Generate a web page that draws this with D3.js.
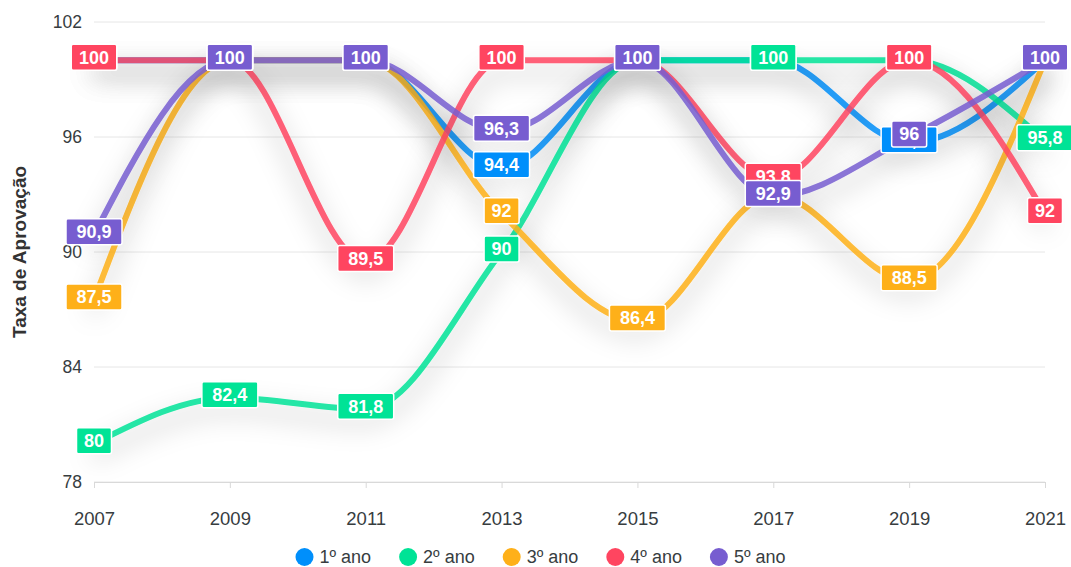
<!DOCTYPE html>
<html lang="pt">
<head>
<meta charset="UTF-8">
<title>Taxa de Aprovação</title>
<style>
  body { margin: 0; background: #fff; }
  svg { font-family: "Liberation Sans", Arial, Helvetica, sans-serif; }
  .grid line { stroke: #e6e6e6; }
  .axis path, .axis line { stroke: #d9d9d9; }
</style>
</head>
<body>
<svg width="1071" height="567"></svg>
<script src="https://cdn.jsdelivr.net/npm/d3@7"></script>
<script>
// data
const years = [2007, 2009, 2011, 2013, 2015, 2017, 2019, 2021];
const seriesNames = ['1º ano', '2º ano', '3º ano', '4º ano', '5º ano'];
const colors = ['#008FFB', '#00E396', '#FEB019', '#FF4560', '#775DD0'];
const ano1 = [100, 100, 100, 94.4, 100, 100, 95.7, 100];
const ano2 = [80, 82.4, 81.8, 90, 100, 100, 100, 95.8];
const ano3 = [87.5, 100, 100, 92, 86.4, 93, 88.5, 100];
const ano4 = [100, 100, 89.5, 100, 100, 93.8, 100, 92];
const ano5 = [90.9, 100, 100, 96.3, 100, 92.9, 96, 100];
const yTicks = [78, 84, 90, 96, 102];

const allSeries = [ano1, ano2, ano3, ano4, ano5];

const svg = d3.select('svg');
const margin = { top: 22, right: 26, bottom: 85, left: 94 };
const width = 1071 - margin.left - margin.right;
const height = 567 - margin.top - margin.bottom;

const x = d3.scalePoint().domain(years).range([0, width]);
const y = d3.scaleLinear().domain([78, 102]).range([height, 0]);

const defs = svg.append('defs');
const f = defs.append('filter').attr('id', 'shadow')
  .attr('x', '-20%').attr('y', '-60%').attr('width', '140%').attr('height', '220%');
f.append('feDropShadow')
  .attr('dx', 0).attr('dy', 12)
  .attr('stdDeviation', 13)
  .attr('flood-color', '#000')
  .attr('flood-opacity', 0.33);

const g = svg.append('g')
  .attr('transform', `translate(${margin.left},${margin.top})`);

// grid
g.append('g').attr('class', 'grid')
  .selectAll('line').data(yTicks).join('line')
  .attr('x1', 0).attr('x2', width)
  .attr('y1', d => y(d)).attr('y2', d => y(d));

// y axis
const yAxis = g.append('g').attr('class', 'axis')
  .call(d3.axisLeft(y).tickValues(yTicks).tickSize(0).tickPadding(12));
yAxis.select('.domain').remove();
yAxis.selectAll('text')
  .attr('font-size', 17.5)
  .attr('font-family', '"Liberation Sans", Arial, sans-serif')
  .attr('fill', '#373d3f');

// x axis
const xAxis = g.append('g').attr('class', 'axis')
  .attr('transform', `translate(0,${height})`)
  .call(d3.axisBottom(x).tickSize(6).tickPadding(24).tickSizeOuter(0));
xAxis.selectAll('text')
  .attr('font-size', 18.5)
  .attr('font-family', '"Liberation Sans", Arial, sans-serif')
  .attr('fill', '#373d3f');

svg.append('text')
  .attr('transform', `translate(26,${margin.top + height / 2}) rotate(-90)`)
  .attr('text-anchor', 'middle')
  .attr('font-size', 19)
  .attr('font-weight', 'bold')
  .attr('fill', '#333')
  .text('Taxa de Aprovação');

// lines
const line = d3.line()
  .x((d, i) => x(years[i]))
  .y(d => y(d))
  .curve(d3.curveMonotoneX);

g.append('g').selectAll('path').data(allSeries).join('path')
  .attr('d', d => line(d))
  .attr('fill', 'none')
  .attr('stroke', (d, i) => colors[i])
  .attr('stroke-width', 6)
  .attr('stroke-opacity', 0.85)
  .attr('stroke-linecap', 'round')
  .attr('filter', 'url(#shadow)');

// data labels
const fmt = v => String(v).replace('.', ',');
allSeries.forEach((s, si) => {
  const lg = g.append('g');
  s.forEach((v, i) => {
    const cx = x(years[i]);
    const cy = y(v) - 3;
    const t = fmt(v);
    const w = t.length * 10.5 + 14;
    const lab = lg.append('g').attr('transform', `translate(${cx},${cy})`);
    lab.append('rect')
      .attr('x', -w / 2).attr('y', -13)
      .attr('width', w).attr('height', 26)
      .attr('rx', 2)
      .attr('fill', colors[si])
      .attr('stroke', '#fff')
      .attr('stroke-width', 1.5);
    lab.append('text')
      .attr('text-anchor', 'middle')
      .attr('dy', '0.36em')
      .attr('fill', '#fff')
      .attr('font-size', 18)
      .attr('font-weight', 'bold')
      .text(t);
  });
});

// legend
const legend = svg.append('g').attr('transform', 'translate(0,557)');
const items = [];
let lx = 0;
seriesNames.forEach((n, i) => {
  items.push({ n, i, x: lx });
  lx += 18 + 6 + n.length * 9.6 + 22;
});
const total = lx - 22;
const start = 1071 / 2 - total / 2 + 8;
items.forEach(it => {
  const ig = legend.append('g').attr('transform', `translate(${start + it.x},0)`);
  ig.append('circle').attr('cx', 9).attr('cy', 0).attr('r', 9).attr('fill', colors[it.i]);
  ig.append('text').attr('x', 24).attr('dy', '0.35em')
    .attr('font-size', 18).attr('fill', '#373d3f').text(it.n);
});
</script>
</body>
</html>
